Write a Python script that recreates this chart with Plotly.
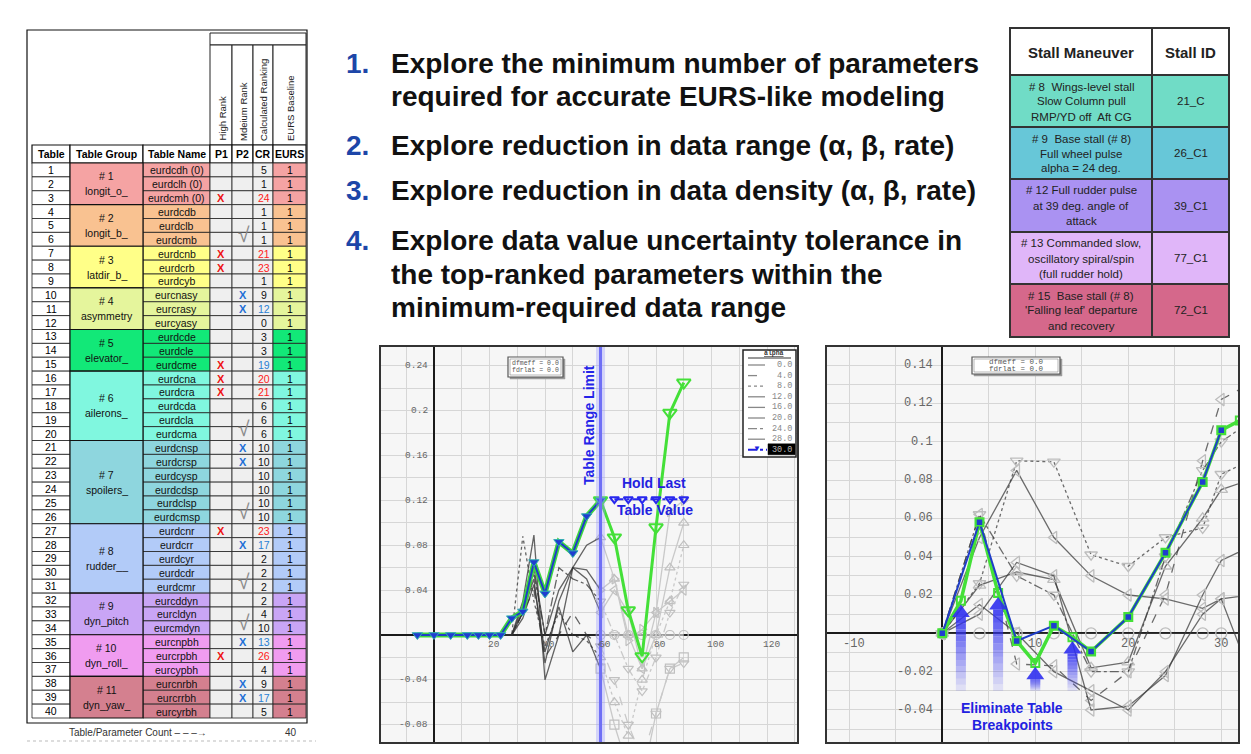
import plotly.graph_objects as go

W, H = 1251, 754
SANS = "Liberation Sans, Arial, sans-serif"
MONO = "Liberation Mono, DejaVu Sans Mono, monospace"


def px(x):
    return x / W


def py(y):
    return 1 - y / H


# ------------------------------------------------------------------ data
table_numbers = list(range(1, 41))
table_names = ["eurdcdh (0)", "eurdclh (0)", "eurdcmh (0)", "eurdcdb", "eurdclb", "eurdcmb",
               "eurdcnb", "eurdcrb", "eurdcyb", "eurcnasy", "eurcrasy", "eurcyasy",
               "eurdcde", "eurdcle", "eurdcme", "eurdcna", "eurdcra", "eurdcda", "eurdcla", "eurdcma",
               "eurdcnsp", "eurdcrsp", "eurdcysp", "eurdcdsp", "eurdclsp", "eurdcmsp",
               "eurdcnr", "eurdcrr", "eurdcyr", "eurdcdr", "eurdcmr",
               "eurcddyn", "eurcldyn", "eurcmdyn", "eurcnpbh", "eurcrpbh", "eurcypbh",
               "eurcnrbh", "eurcrrbh", "eurcyrbh"]
p1_marks = ["", "", "X", "", "", "", "X", "X", "", "", "", "", "", "", "X", "X", "X", "", "", "",
            "", "", "", "", "", "", "X", "", "", "", "", "", "", "", "", "X", "", "", "", ""]
p2_marks = ["", "", "", "", "", "v", "", "", "", "X", "X", "", "", "", "", "", "", "", "", "v",
            "X", "X", "", "", "", "v", "", "X", "", "", "v", "", "", "v", "X", "", "", "X", "X", ""]
cr_values = [5, 1, 24, 1, 1, 1, 21, 23, 1, 9, 12, 0, 3, 3, 19, 20, 21, 6, 6, 6,
             10, 10, 10, 10, 10, 10, 23, 17, 2, 2, 2, 2, 4, 10, 13, 26, 4, 9, 17, 5]
cr_color_codes = ["k", "k", "r", "k", "k", "k", "r", "r", "k", "k", "b", "k", "k", "k", "b", "r", "r", "k", "k", "k",
                  "k", "k", "k", "k", "k", "k", "r", "b", "k", "k", "k", "k", "k", "k", "b", "r", "k", "k", "b", "k"]
eurs_values = [1, 1, 1, 1, 1, 1, 1, 1, 1, 1, 1, 1, 1, 1, 1, 1, 1, 1, 1, 1,
               1, 1, 1, 1, 1, 1, 1, 1, 1, 1, 1, 1, 1, 1, 1, 1, 1, 1, 1, 1]
group_numbers = ["# 1", "# 2", "# 3", "# 4", "# 5", "# 6", "# 7", "# 8", "# 9", "# 10", "# 11"]
group_names = ["longit_o_", "longit_b_", "latdir_b_", "asymmetry", "elevator_", "ailerons_",
               "spoilers_", "rudder__", "dyn_pitch", "dyn_roll_", "dyn_yaw_"]
group_sizes = [3, 3, 3, 3, 3, 5, 6, 5, 3, 3, 3]
group_colors = ["#f5a3a3", "#f9c291", "#ffff88", "#e5f59c", "#12e878", "#80f7df",
                "#8ed6de", "#b2cbf8", "#c9a5f5", "#f09cf0", "#d4808f"]
header_cols = ["Table", "Table Group", "Table Name", "P1", "P2", "CR", "EURS"]
rotated_headers = ["High Rank", "Mdeium Rank", "Calculated Ranking", "EURS Baseline"]
param_count = 40

items = [
    ("1.", ["Explore the minimum number of parameters", "required for accurate EURS-like modeling"]),
    ("2.", ["Explore reduction in data range (\u03b1, \u03b2, rate)"]),
    ("3.", ["Explore reduction in data density (\u03b1, \u03b2, rate)"]),
    ("4.", ["Explore data value uncertainty tolerance in", "the top-ranked parameters within the",
            "minimum-required data range"]),
]

stall_header = ["Stall Maneuver", "Stall ID"]
stall_desc = [["# 8  Wings-level stall", "Slow Column pull", "RMP/YD off  Aft CG"],
              ["# 9  Base stall (# 8)", "Full wheel pulse", "alpha = 24 deg."],
              ["# 12 Full rudder pulse", "at 39 deg. angle of", "attack"],
              ["# 13 Commanded slow,", "oscillatory spiral/spin", "(full rudder hold)"],
              ["# 15  Base stall (# 8)", "'Falling leaf' departure", "and recovery"]]
stall_ids = ["21_C", "26_C1", "39_C1", "77_C1", "72_C1"]
stall_colors = ["#70dcc6", "#67c7d8", "#aa92f2", "#e0b6f9", "#d5688b"]

# left chart (alpha sweep, beta = 30 highlighted)
left_alpha = [-6, 0, 6, 12, 16, 20, 24, 28, 32, 36, 40, 45, 50, 55, 60]
left_beta30 = [0, 0, 0, 0, 0, 0, 0, 0.015, 0.021, 0.065, 0.037, 0.083, 0.073, 0.106, 0.120]
left_ext_alpha = [60, 65, 70, 75, 80, 85, 90]
left_ext_value = [0.120, 0.087, 0.022, -0.019, 0.096, 0.198, 0.225]
hold_alpha = [65, 70, 75, 80, 85, 90]
hold_value = [0.121, 0.121, 0.121, 0.121, 0.121, 0.121]
table_limit_alpha = 60
legend_betas = ["0.0", "4.0", "8.0", "12.0", "16.0", "20.0", "24.0", "28.0"]
highlight_beta = "30.0"
left_gray_alpha = [20, 24, 28, 32, 36, 40, 45, 50, 55, 60, 65, 70, 75, 80, 85, 90]
left_gray = [
    [0, 0, 0, 0, 0, 0, 0, 0, 0, 0, 0, 0, 0, 0, 0, 0],
    [0, 0, 0.0, 0.02, 0.04, -0.02, 0.0, 0.02, 0.0, -0.01, -0.04, -0.08, -0.11, -0.07, -0.03, -0.025],
    [0, 0, 0.0, 0.088, 0.03, -0.01, 0.02, 0.0, -0.005, -0.02, -0.06, -0.09, -0.04, 0.0, 0.03, 0.08],
    [0, 0, 0.0, 0.03, 0.089, -0.04, 0.0, 0.06, 0.05, 0.02, 0.04, 0.02, -0.03, 0.02, 0.03, 0.04],
    [0, 0, 0.0, 0.02, 0.05, -0.025, 0.03, 0.06, 0.058, 0.04, 0.05, -0.005, 0.005, 0.02, 0.11, 0.12],
    [0, 0, 0.0, 0.015, 0.045, -0.015, 0.025, -0.015, 0.0, -0.03, -0.08, -0.12, -0.13, -0.07, -0.03, -0.02],
    [0, 0, 0.0, 0.02, 0.055, 0.0, 0.06, 0.05, 0.045, 0.03, 0.0, -0.03, -0.05, -0.02, 0.02, 0.045],
    [0, 0, 0.0, 0.025, 0.06, 0.0, 0.04, 0.06, 0.08, 0.087, 0.05, 0.0, -0.03, 0.0, 0.06, 0.10],
]
gray_dashes = ["solid", "dash", "dot", "solid", "solid", "solid", "dashdot", "solid"]
left_gray_symbols = ["circle-open", "triangle-down-open", "triangle-up-open", "triangle-left-open",
                     "triangle-right-open", "square-open", "triangle-down-open", "triangle-up-open"]
left_yticks = [0.24, 0.2, 0.16, 0.12, 0.08, 0.04, -0.04, -0.08]
left_yticklabels = ["0.24", "0.2", "0.16", "0.12", "0.08", "0.04", "-0.04", "-0.08"]
left_xticks = [20, 40, 60, 80, 100, 120]
left_xticklabels = ["20", "40", "60", "80", "100", "120"]

# right chart (breakpoint elimination)
right_alpha_reduced = [0, 4, 8, 12, 16, 20, 24, 28, 30]
right_value_reduced = [0, 0.058, -0.004, 0.004, -0.0095, 0.0085, 0.042, 0.079, 0.106]
right_alpha_full = [0, 2, 4, 6, 8, 10, 12, 14, 16, 20, 24, 28, 30, 32]
right_value_full = [0, 0.017, 0.058, 0.021, -0.004, -0.0155, 0.004, -0.002, -0.0095, 0.0085, 0.042, 0.079,
                    0.106, 0.111]
eliminated_alpha = [2, 6, 10, 14]
eliminated_value = [0.017, 0.021, -0.0155, -0.002]
right_gray_alpha = [0, 4, 8, 12, 16, 20, 24, 28, 30, 33]
right_gray = [
    [0, 0, 0, 0, 0, 0, 0, 0, 0, 0],
    [0, 0.062, -0.016, -0.017, -0.035, -0.02, 0.02, 0.09, 0.122, 0.13],
    [0, 0.026, 0.09, 0.0895, 0.041, 0.035, 0.05, 0.055, 0.083, 0.09],
    [0, 0.05, 0.085, 0.05, 0.03, 0.02, 0.018, 0.013, 0.018, 0.02],
    [0, 0.025, 0.032, 0.028, -0.018, -0.015, 0.035, 0.06, 0.075, 0.08],
    [0, 0.01, 0.037, 0.03, -0.04, -0.038, -0.022, 0.02, 0.038, 0.045],
    [0, 0.062, 0.03, 0.02, -0.02, -0.02, 0.04, 0.085, 0.1, 0.11],
    [0, 0.015, 0.0, -0.02, -0.03, -0.04, -0.02, 0.01, 0.018, -0.02],
]
right_gray_symbols = ["circle-open", "triangle-left-open", "triangle-down-open", "triangle-left-open",
                      "triangle-up-open", "triangle-left-open", "triangle-down-open", "triangle-left-open"]
right_yticks = [0.14, 0.12, 0.1, 0.08, 0.06, 0.04, 0.02, -0.02, -0.04]
right_yticklabels = ["0.14", "0.12", "0.1", "0.08", "0.06", "0.04", "0.02", "-0.02", "-0.04"]
right_xticks = [-10, 10, 20, 30]
right_xticklabels = ["-10", "10", "20", "30"]

# ------------------------------------------------------------------ helpers
shapes = []
annotations = []


def rect(x0, y0, x1, y1, fill="rgba(0,0,0,0)", line="#222", lw=1.0, opacity=1.0):
    shapes.append(dict(type="rect", xref="paper", yref="paper", x0=px(x0), x1=px(x1),
                       y0=py(y1), y1=py(y0), fillcolor=fill, opacity=opacity,
                       line=dict(color=line, width=lw)))


def hline(x0, x1, y, color="#222", lw=1.0, dash="solid"):
    shapes.append(dict(type="line", xref="paper", yref="paper", x0=px(x0), x1=px(x1),
                       y0=py(y), y1=py(y), line=dict(color=color, width=lw, dash=dash)))


def text(x, y, s, size, color="#000", bold=False, xanchor="center", yanchor="middle",
         family=SANS, angle=0):
    annotations.append(dict(xref="paper", yref="paper", x=px(x), y=py(y),
                            text=f"<b>{s}</b>" if bold else s, showarrow=False,
                            xanchor=xanchor, yanchor=yanchor, textangle=angle,
                            font=dict(size=size, color=color, family=family), borderpad=0))


# ------------------------------------------------------------------ left table
col_x = [32, 70, 143, 210, 232, 253, 273, 306]
row_top = 163
row_h = 13.875
rect(27, 30, 307, 723, line="#111", lw=1.2)
rect(col_x[3], 33, col_x[7], 45, fill="white", line="#222", lw=1)
for i, lab in enumerate(rotated_headers):
    rect(col_x[3 + i], 45, col_x[4 + i], 145, fill="white", line="#222", lw=1)
    text((col_x[3 + i] + col_x[4 + i]) / 2 + 1, 142, lab, 9.5, color="#222", angle=-90,
         yanchor="bottom")
for i, lab in enumerate(header_cols):
    rect(col_x[i], 145, col_x[i + 1], row_top, fill="white", line="#111", lw=1.2)
    text((col_x[i] + col_x[i + 1]) / 2, (145 + row_top) / 2 + 0.5, lab, 10.5, bold=True)

row_group = []
for g, n in enumerate(group_sizes):
    row_group += [g] * n

CR_COL = {"k": "#111", "r": "#ff2020", "b": "#2a7fd4"}
for r in range(40):
    y0 = row_top + r * row_h
    y1 = y0 + row_h
    yc = (y0 + y1) / 2
    gcol = group_colors[row_group[r]]
    rect(col_x[0], y0, col_x[1], y1, fill="white", line="#222", lw=0.8)
    text((col_x[0] + col_x[1]) / 2, yc, str(table_numbers[r]), 10.5)
    rect(col_x[2], y0, col_x[3], y1, fill=gcol, line="#222", lw=0.8)
    text((col_x[2] + col_x[3]) / 2, yc + 0.5, table_names[r], 10.5, color="#111")
    for c in (3, 4, 5):
        rect(col_x[c], y0, col_x[c + 1], y1, fill="#efefef", line="#222", lw=0.8)
    rect(col_x[6], y0, col_x[7], y1, fill=gcol, line="#222", lw=0.8)
    if p1_marks[r] == "X":
        text((col_x[3] + col_x[4]) / 2, yc + 0.5, "X", 11, color="#ee1111", bold=True)
    if p2_marks[r] == "X":
        text((col_x[4] + col_x[5]) / 2, yc + 0.5, "X", 11, color="#1f6fd6", bold=True)
    text((col_x[5] + col_x[6]) / 2 + 1, yc + 0.5, str(cr_values[r]), 10.5,
         color=CR_COL[cr_color_codes[r]])
    text((col_x[6] + col_x[7]) / 2, yc + 0.5, str(eurs_values[r]), 10.5)

start = 0
for g, n in enumerate(group_sizes):
    y0 = row_top + start * row_h
    y1 = y0 + n * row_h
    yc = (y0 + y1) / 2
    rect(col_x[1], y0, col_x[2], y1, fill=group_colors[g], line="#111", lw=1.2)
    text((col_x[1] + col_x[2]) / 2, yc - 7.5, group_numbers[g], 10.5, color="#111")
    text((col_x[1] + col_x[2]) / 2, yc + 7.5, group_names[g], 10.5, color="#111")
    start += n

# check marks drawn last so they overlap the row borders
for r in range(40):
    if p2_marks[r] == "v":
        yc = row_top + r * row_h + row_h / 2
        text((col_x[4] + col_x[5]) / 2 + 1, yc - 5, "\u221a", 21, color="#8a8a8a")

text(138, 732, "Table/Parameter Count \u2013 \u2013 \u2013\u2192", 10, color="#333")
text(291, 732, str(param_count), 10, color="#333")
hline(27, 316, 741, color="#bbbbbb", lw=1, dash="dot")

# ------------------------------------------------------------------ bullet text
line_y = [[64, 97], [145], [190], [240, 274, 307]]
for (num, lines), ys in zip(items, line_y):
    text(345, ys[0], num, 28, color="#1d46a8", bold=True, xanchor="left")
    for ln, yy in zip(lines, ys):
        text(390, yy, ln, 28, color="#111", bold=True, xanchor="left")

# ------------------------------------------------------------------ stall table
st_x = [1010, 1152, 1229]
st_y = [28, 75, 127, 179, 232, 284, 337]
rect(st_x[0], st_y[0], st_x[1], st_y[1], fill="white", line="#333", lw=2)
rect(st_x[1], st_y[0], st_x[2], st_y[1], fill="white", line="#333", lw=2)
text((st_x[0] + st_x[1]) / 2, 52, stall_header[0], 15, color="#222", bold=True)
text((st_x[1] + st_x[2]) / 2, 52, stall_header[1], 15, color="#222", bold=True)
for i in range(5):
    y0, y1 = st_y[i + 1], st_y[i + 2]
    rect(st_x[0], y0, st_x[1], y1, fill=stall_colors[i], line="#333", lw=2)
    rect(st_x[1], y0, st_x[2], y1, fill=stall_colors[i], line="#333", lw=2)
    for k, ln in enumerate(stall_desc[i]):
        text((st_x[0] + st_x[1]) / 2, y0 + 11.5 + 15 * k, ln, 11.5, color="#222")
    text((st_x[1] + st_x[2]) / 2, (y0 + y1) / 2, stall_ids[i], 11.5, color="#222")

# ------------------------------------------------------------------ charts
fig = go.Figure()

# left chart gray curves, split at the table range limit
for k, vals in enumerate(left_gray):
    xin = [a for a in left_gray_alpha if a <= table_limit_alpha]
    yin = vals[:len(xin)]
    xout = [a for a in left_gray_alpha if a >= table_limit_alpha]
    yout = vals[len(xin) - 1:]
    fig.add_trace(go.Scatter(x=xout, y=yout, xaxis="x", yaxis="y", mode="lines+markers",
                             line=dict(color="#c9c9c9", width=1.3, dash=gray_dashes[k]),
                             marker=dict(symbol=left_gray_symbols[k], size=9, color="#c0c0c0",
                                         line=dict(width=1.2)),
                             hoverinfo="skip"))
    fig.add_trace(go.Scatter(x=xin, y=yin, xaxis="x", yaxis="y", mode="lines",
                             line=dict(color="rgba(50,50,50,0.75)", width=1.3, dash=gray_dashes[k]),
                             hoverinfo="skip"))

fig.add_trace(go.Scatter(x=left_alpha, y=left_beta30, xaxis="x", yaxis="y", mode="lines",
                         line=dict(color="#3fd63f", width=5), hoverinfo="skip"))
fig.add_trace(go.Scatter(x=left_ext_alpha, y=left_ext_value, xaxis="x", yaxis="y", mode="lines+markers",
                         line=dict(color="#44e038", width=3),
                         marker=dict(symbol="triangle-down-open", size=12, color="#44e038",
                                     line=dict(width=2)),
                         hoverinfo="skip"))
fig.add_trace(go.Scatter(x=left_alpha, y=left_beta30, xaxis="x", yaxis="y", mode="lines+markers",
                         line=dict(color="#1f3dc8", width=2),
                         marker=dict(symbol="triangle-down", size=9, color="#1f3dd0",
                                     line=dict(color="#30b0b0", width=1)),
                         hoverinfo="skip"))
fig.add_trace(go.Scatter(x=hold_alpha, y=hold_value, xaxis="x", yaxis="y", mode="lines+markers",
                         line=dict(color="#2828ee", width=1.8, dash="dashdot"),
                         marker=dict(symbol="triangle-down-open", size=8, color="#2828ee",
                                     line=dict(width=2)),
                         hoverinfo="skip"))

# right chart gray curves
for k, vals in enumerate(right_gray):
    fig.add_trace(go.Scatter(x=right_gray_alpha, y=vals, xaxis="x2", yaxis="y2", mode="lines+markers",
                             line=dict(color="rgba(60,60,60,0.75)", width=1.3, dash=gray_dashes[k]),
                             marker=dict(symbol=right_gray_symbols[k], size=11, color="#bdbdbd",
                                         line=dict(width=1.3)),
                             hoverinfo="skip"))
fig.add_trace(go.Scatter(x=right_alpha_full, y=right_value_full, xaxis="x2", yaxis="y2",
                         mode="lines+markers", line=dict(color="#44e038", width=3.5),
                         marker=dict(symbol="square-open", size=8, color="#44e038", line=dict(width=2)),
                         hoverinfo="skip"))
fig.add_trace(go.Scatter(x=right_alpha_reduced, y=right_value_reduced, xaxis="x2", yaxis="y2",
                         mode="lines+markers", line=dict(color="#1f3dc8", width=2),
                         marker=dict(symbol="square", size=7, color="#1f3dd0",
                                     line=dict(color="#44e038", width=1.5)),
                         hoverinfo="skip"))

axis_common = dict(showticklabels=False, ticks="", showgrid=True, gridcolor="#d6d6d6", gridwidth=1,
                   zeroline=True, zerolinecolor="#1a1a1a", zerolinewidth=2, showline=True,
                   mirror=True, linecolor="#333", linewidth=1.5, fixedrange=True)
fig.update_layout(
    width=W, height=H, margin=dict(l=0, r=0, t=0, b=0), paper_bgcolor="white",
    plot_bgcolor="#f6f6f6", showlegend=False,
    xaxis=dict(domain=[px(381), px(797)], range=[-19.1, 130.8], dtick=10, tick0=0,
               anchor="y", **axis_common),
    yaxis=dict(domain=[py(742), py(347)], range=[-0.0954, 0.2567], dtick=0.02, tick0=0,
               anchor="x", **axis_common),
    xaxis2=dict(domain=[px(827), px(1238)], range=[-12.4, 31.8], dtick=5, tick0=0,
                anchor="y2", **axis_common),
    yaxis2=dict(domain=[py(742), py(347)], range=[-0.0567, 0.1494], dtick=0.01, tick0=0,
                anchor="x2", **axis_common),
)

# tick labels drawn on the zero lines
for v, t in zip(left_yticks, left_yticklabels):
    annotations.append(dict(xref="x", yref="y", x=0, y=v, text=t, showarrow=False, xanchor="right",
                            xshift=-4, font=dict(size=9.5, color="#666", family=MONO)))
for v, t in zip(left_xticks, left_xticklabels):
    annotations.append(dict(xref="x", yref="y", x=v, y=0, text=t, showarrow=False, yanchor="top",
                            xshift=4, yshift=-2, font=dict(size=9.5, color="#666", family=MONO)))
for v, t in zip(right_yticks, right_yticklabels):
    annotations.append(dict(xref="x2", yref="y2", x=0, y=v, text=t, showarrow=False, xanchor="right",
                            xshift=-7, font=dict(size=12, color="#666", family=MONO)))
for v, t in zip(right_xticks, right_xticklabels):
    annotations.append(dict(xref="x2", yref="y2", x=v, y=0, text=t, showarrow=False, yanchor="top",
                            xshift=5 if v < 0 else 0, yshift=-2,
                            font=dict(size=12, color="#666", family=MONO)))

# table range limit line
for w, c in ((9, "rgba(150,150,255,0.35)"), (3, "#6f6ff5")):
    shapes.append(dict(type="line", xref="x", yref="y domain", x0=table_limit_alpha, x1=table_limit_alpha,
                       y0=0, y1=1, line=dict(color=c, width=w)))
text(589, 425, "Table Range Limit", 14, color="#2424e8", bold=True, angle=-90)
text(654, 483, "Hold Last", 14, color="#2222e0", bold=True)
text(655, 510, "Table Value", 14, color="#2222e0", bold=True)

# info boxes
for (x0, y0, x1, y1, fs) in ((508, 357, 563, 377, 6.5), (972, 357, 1060, 374, 7.5)):
    rect(x0 + 2, y0 + 2, x1 + 2, y1 + 2, fill="#9a9a9a", line="#9a9a9a", lw=0.5)
    rect(x0, y0, x1, y1, fill="white", line="#555", lw=1.2)
    rect(x0 + 2, y0 + 2, x1 - 2, y1 - 2, line="#888", lw=0.6)
    text((x0 + x1) / 2, (y0 + y1) / 2 - 3.5, "dfmeff = 0.0", fs, color="#555", family=MONO)
    text((x0 + x1) / 2, (y0 + y1) / 2 + 3.5, "fdrlat = 0.0", fs, color="#555", family=MONO)

# left chart series legend box
rect(743, 350, 796, 457, fill="white", line="#222", lw=1.5)
text(774, 354, "<u>alpha</u>", 6.5, color="#333", bold=True, family=MONO)
hline(748, 791, 358, color="#333", lw=1)
for k, lab in enumerate(legend_betas):
    yy = 365 + 10.6 * k
    hline(748, 765, yy, color="#888", lw=1.3, dash=gray_dashes[k])
    text(793, yy, lab, 8.5, color="#888", xanchor="right", family=MONO)
yy = 365 + 10.6 * 8
hline(748, 767, yy, color="#2020e0", lw=2, dash="dashdot")
text(757, yy - 1, "\u25bc", 8, color="#2020e0")
rect(768, yy - 6, 795, yy + 5, fill="#000", line="#000", lw=0.5)
text(793, yy, highlight_beta, 8.5, color="#bbbbbb", xanchor="right", family=MONO)

# eliminated-breakpoint arrows (gradient shafts)
arrow_bottom = -0.030
head_h = 0.0065
for ax_, av in zip(eliminated_alpha, eliminated_value):
    tip = av - 0.002
    base = tip - head_h
    nseg = 12
    for s in range(nseg):
        ya = arrow_bottom + (base - arrow_bottom) * s / nseg
        yb = arrow_bottom + (base - arrow_bottom) * (s + 1) / nseg
        shapes.append(dict(type="rect", xref="x2", yref="y2", xsizemode="pixel", xanchor=ax_,
                           x0=-5, x1=5, y0=ya, y1=yb, fillcolor="#3030f0",
                           opacity=0.05 + 0.8 * (s + 1) / nseg, line=dict(width=0)))
    shapes.append(dict(type="path", xref="x2", yref="y2", xsizemode="pixel", xanchor=ax_,
                       path=f"M -9,{base} L 9,{base} L 0,{tip} Z", fillcolor="#2f2ff0",
                       opacity=0.9, line=dict(width=0)))
text(1012, 708, "Eliminate Table", 14, color="#2222e0", bold=True)
text(1012, 725, "Breakpoints", 14, color="#2222e0", bold=True)

fig.update_layout(shapes=shapes, annotations=annotations)
fig.write_html("out.html")
